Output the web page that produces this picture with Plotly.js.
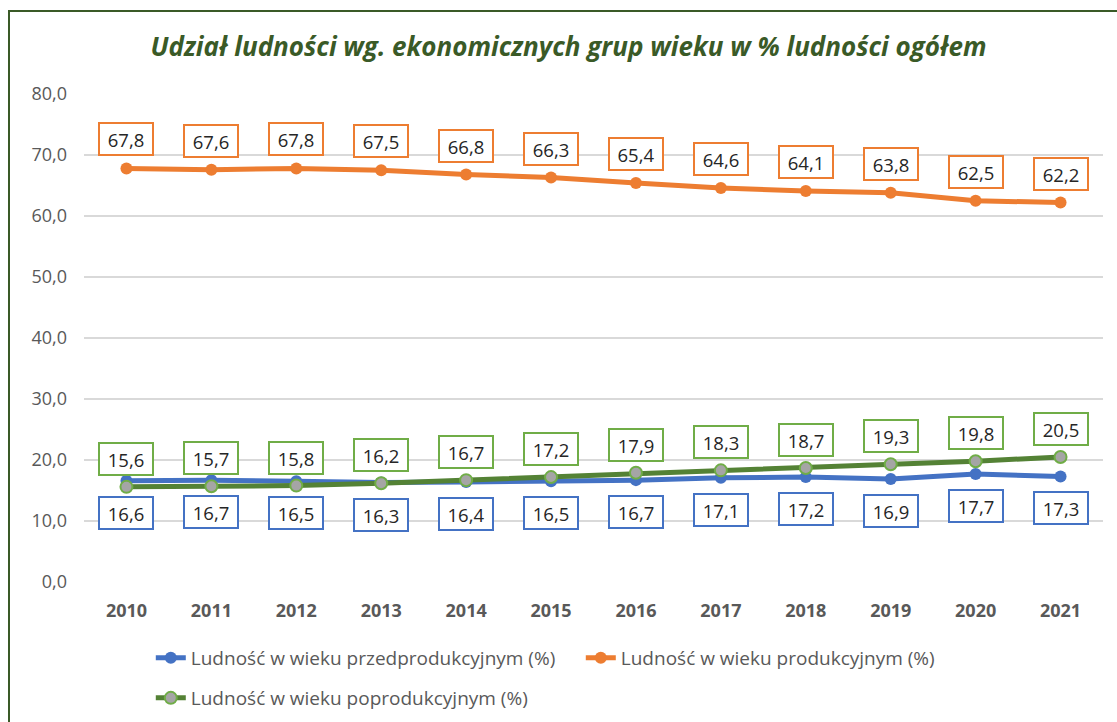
<!DOCTYPE html>
<html>
<head>
<meta charset="utf-8">
<script src="https://cdn.plot.ly/plotly-3.0.1.min.js"></script>
<style>
  html, body { margin: 0; padding: 0; background: #fff; }
  #wrap { position: relative; width: 1117px; height: 722px; overflow: hidden; }
  #chart { position: absolute; left: 0; top: 0; width: 1117px; height: 722px; }
  #frame { position: absolute; left: 8px; top: 10px; width: 1200px; height: 800px;
           border: 2px solid #3a5a27; box-sizing: border-box; pointer-events: none; z-index: 5; }
</style>
</head>
<body>
<div id="wrap">
  <div id="chart"></div>
  <div id="frame"></div>
</div>
<script>
const years = [2010, 2011, 2012, 2013, 2014, 2015, 2016, 2017, 2018, 2019, 2020, 2021];
const przed = [16.6, 16.7, 16.5, 16.3, 16.4, 16.5, 16.7, 17.1, 17.2, 16.9, 17.7, 17.3];
const prod  = [67.8, 67.6, 67.8, 67.5, 66.8, 66.3, 65.4, 64.6, 64.1, 63.8, 62.5, 62.2];
const poprod= [15.6, 15.7, 15.8, 16.2, 16.7, 17.2, 17.9, 18.3, 18.7, 19.3, 19.8, 20.5];
const names = ['Ludność w wieku przedprodukcyjnym (%)', 'Ludność w wieku produkcyjnym (%)', 'Ludność w wieku poprodukcyjnym (%)'];
const yTicks = [0, 10, 20, 30, 40, 50, 60, 70, 80];

const blue = '#4472C4', orange = '#ED7D31', green = '#548235', greenLbl = '#70AD47';
const FONT = '"Open Sans", "Noto Sans", sans-serif';

const traces = [
  { x: years, y: przed, name: names[0], type: 'scatter', mode: 'lines+markers', legend: 'legend',
    line: { color: blue, width: 5 }, marker: { color: blue, size: 12 } },
  { x: years, y: prod, name: names[1], type: 'scatter', mode: 'lines+markers', legend: 'legend',
    line: { color: orange, width: 5 }, marker: { color: orange, size: 12 } },
  { x: years, y: poprod, name: names[2], type: 'scatter', mode: 'lines+markers', legend: 'legend2',
    line: { color: green, width: 5 }, marker: { color: '#A5A5A5', size: 12, line: { color: greenLbl, width: 2 } } }
];

function fmt(v) { return v.toFixed(1).replace('.', ','); }
const ann = [];
function addLabels(vals, color, dy) {
  vals.forEach((v, i) => {
    ann.push({ x: years[i], y: v, xref: 'x', yref: 'y', text: fmt(v), showarrow: false,
      yshift: dy, font: { family: FONT, size: 18.5, color: '#262626' },
      width: 46, height: 24, align: 'center', valign: 'middle',
      bgcolor: '#ffffff', bordercolor: color, borderwidth: 2, borderpad: 3 });
  });
}
addLabels(prod, orange, 29);
addLabels(poprod, greenLbl, 28);
addLabels(przed, blue, -32);

const legFont = { family: FONT, size: 19, color: '#595959' };

const layout = {
  width: 1117, height: 722,
  paper_bgcolor: 'rgba(0,0,0,0)', plot_bgcolor: 'rgba(0,0,0,0)',
  margin: { l: 84, r: 14, t: 94, b: 140 },
  separators: ',.',
  title: { text: '<b><i>Udział ludności wg. ekonomicznych grup wieku w % ludności ogółem</i></b>',
    xref: 'container', x: 0.509, xanchor: 'center', yref: 'container', y: 1 - 47/722, yanchor: 'middle',
    font: { family: FONT, size: 26, color: '#3a5a27' } },
  xaxis: { type: 'linear', range: [2009.5, 2021.5], tickvals: years, showgrid: false, zeroline: false, showline: false,
    ticks: '', ticklabelstandoff: 16,
    tickfont: { family: FONT, size: 18, color: '#595959', weight: 'bold' } },
  yaxis: { range: [0, 80], tickvals: yTicks, tickformat: '.1f', showgrid: true,
    gridcolor: '#d9d9d9', gridwidth: 1.5, zeroline: false, showline: false, ticks: '',
    ticklabelstandoff: 16,
    tickfont: { family: FONT, size: 18, color: '#595959' } },
  showlegend: true,
  legend: { orientation: 'h', xref: 'container', x: 0.135, xanchor: 'left',
    yref: 'container', y: 1 - 658/722, yanchor: 'middle',
    entrywidth: 385, entrywidthmode: 'pixels', font: legFont, bgcolor: 'rgba(0,0,0,0)' },
  legend2: { orientation: 'h', xref: 'container', x: 0.135, xanchor: 'left',
    yref: 'container', y: 1 - 698/722, yanchor: 'middle',
    font: legFont, bgcolor: 'rgba(0,0,0,0)' },
  annotations: ann
};

Plotly.newPlot('chart', traces, layout, { displayModeBar: false, staticPlot: true });
</script>
</body>
</html>
